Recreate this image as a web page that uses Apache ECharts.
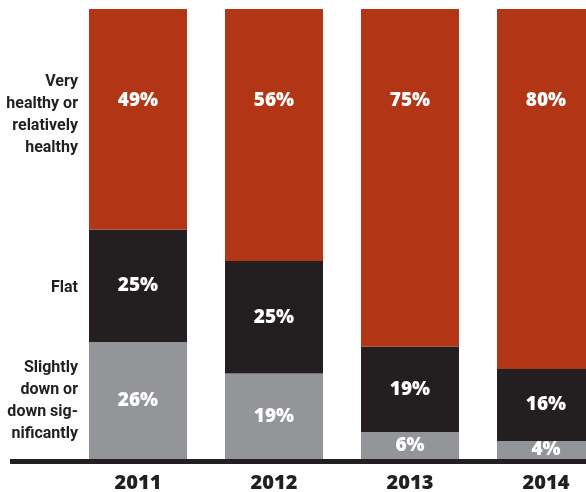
<!DOCTYPE html>
<html>
<head>
<meta charset="utf-8">
<script src="https://cdn.jsdelivr.net/npm/echarts@6/dist/echarts.min.js"></script>
<style>
  html, body { margin: 0; padding: 0; background: #ffffff; }
  #chart { width: 586px; height: 492px; }
</style>
</head>
<body>
<div id="chart"></div>
<script>
// Share of respondents by year (percent)
const years = ['2011', '2012', '2013', '2014'];
const healthy = [49, 56, 75, 80];
const flat = [25, 25, 19, 16];
const down = [26, 19, 6, 4];
const rowLabels = ['Very\nhealthy or\nrelatively\nhealthy', 'Flat', 'Slightly\ndown or\ndown sig-\nnificantly'];

const RED = '#b23615';
const DARK = '#231f20';
const GREY = '#939598';
const numFont = '"Open Sans", Lato, sans-serif';
const rowFont = 'bold 16px Roboto, "Liberation Sans", sans-serif';

const chart = echarts.init(document.getElementById('chart'));

function pctLabel(extra) {
  return Object.assign({
    show: true,
    color: '#ffffff',
    fontFamily: numFont,
    fontWeight: 800,
    fontSize: 19,
    formatter: p => p.value + '%'
  }, extra || {});
}

function rowText(text, y) {
  return {
    type: 'text', x: 78, y: y,
    style: { text: text, fill: DARK, align: 'right', verticalAlign: 'top',
      font: rowFont, lineHeight: 22 }
  };
}

chart.setOption({
  animation: false,
  // the last column runs past the right edge of the canvas
  grid: { left: 70, width: 544, top: 9, bottom: 33, outerBoundsMode: 'none', containLabel: false },
  xAxis: {
    type: 'category',
    data: years,
    axisLine: { show: false },
    axisTick: { show: false },
    axisLabel: {
      color: DARK,
      fontFamily: numFont,
      fontWeight: 800,
      fontSize: 20,
      margin: 14
    }
  },
  yAxis: { type: 'value', min: 0, max: 100, show: false },
  series: [
    {
      name: rowLabels[2], type: 'bar', stack: 'total', barWidth: 98,
      data: down, itemStyle: { color: GREY },
      label: pctLabel({ position: 'inside' })
    },
    {
      name: rowLabels[1], type: 'bar', stack: 'total', barWidth: 98,
      data: flat, itemStyle: { color: DARK },
      label: pctLabel({ position: 'inside' })
    },
    {
      name: rowLabels[0], type: 'bar', stack: 'total', barWidth: 98,
      data: healthy, itemStyle: { color: RED },
      label: pctLabel({ position: 'insideTop', distance: 82 })
    }
  ],
  graphic: [
    {
      type: 'line', z: 100,
      shape: { x1: 10, y1: 461.5, x2: 586, y2: 461.5 },
      style: { stroke: DARK, lineWidth: 5 }
    },
    rowText(rowLabels[0], 71),
    rowText(rowLabels[1], 277),
    rowText(rowLabels[2], 357)
  ]
});
</script>
</body>
</html>
